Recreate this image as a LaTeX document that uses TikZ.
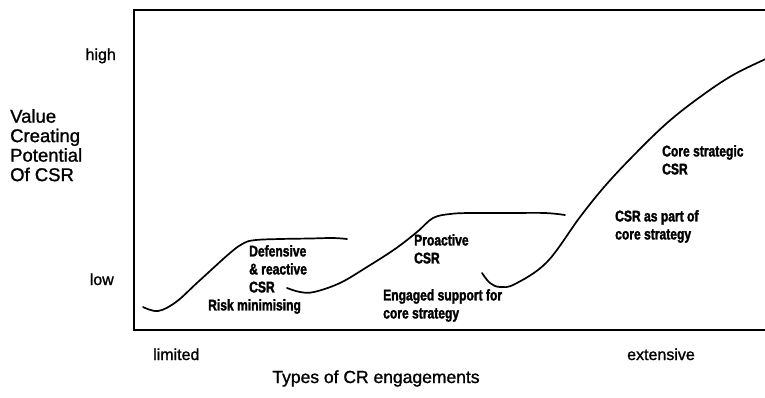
\documentclass[tikz,border=0pt]{standalone}
\usepackage{fontspec}
\setmainfont{Liberation Sans}[FakeBold=1.2]
\newfontfamily\narrowfont{Liberation Sans Bold}[FakeStretch=0.78, FakeBold=1.8]
\tikzset{
  frame/.style={line width=2pt},
  curve/.style={line width=1.7pt, line join=round, line cap=round},
  stage/.style={font=\narrowfont\fontsize{15.5}{18}\selectfont, align=left, inner sep=0pt, anchor=north west},
  axis/.style={font=\fontsize{16}{19}\selectfont, inner sep=0pt},
  title/.style={font=\fontsize{18.5}{19.5}\selectfont, inner sep=0pt, align=left},
}
\begin{document}
\begin{tikzpicture}[x=1pt, y=-1pt]
            \useasboundingbox (0,0) rectangle (765,397);

            \coordinate (TL) at (134,10);
            \coordinate (TR) at (766,10);
            \coordinate (BL) at (134,330);
            \coordinate (BR) at (766,330);
            \draw[frame] (TR) -- (TL) -- (BL) -- (BR);

            \draw[curve] plot[smooth, tension=0.6] coordinates {(143,307) (158,311) (176,302) (198,282) (230,253) (244,243) (256,240) (280,239) (310,238.5) (333,238) (347,239)};
            \draw[curve] plot[smooth, tension=0.6] coordinates {(287,288) (300,292) (314,292) (340,283) (367,267) (395,249) (417,232) (433,218) (450,214) (470,213) (510,213) (545,213) (565,215)};
            \draw[curve] plot[smooth, tension=0.6] coordinates {(482,273) (490,283) (500,287) (515,284) (547,262) (580,217) (605,186) (633,156) (667,123) (700,97) (733,75) (768,58)};

            \node[stage] (defensive) at (249,245) {Defensive\\\& reactive\\CSR};
            \node[stage] (risk) at (208,299) {Risk minimising};
            \node[stage] (proactive) at (414,234) {Proactive\\CSR};
            \node[stage] (engaged) at (383,289) {Engaged support for\\core strategy};
            \node[stage] (aspart) at (615,210) {CSR as part of\\core strategy};
            \node[stage] (core) at (662,145) {Core strategic\\CSR};

            \node[axis, anchor=base east] (high) at (116,60) {high};
            \node[axis, anchor=base east] (low) at (114,285) {low};
            \node[axis, anchor=base west] (limited) at (153,360) {limited};
            \node[axis, anchor=base west] (extensive) at (627,360) {extensive};

            \node[title, anchor=north west] (value) at (10,109) {Value\\Creating\\Potential\\Of CSR};
            \node[title, font=\fontsize{17.5}{19.5}\selectfont, anchor=base] (types) at (376,383) {Types of CR engagements};
        \end{tikzpicture}
\end{document}
